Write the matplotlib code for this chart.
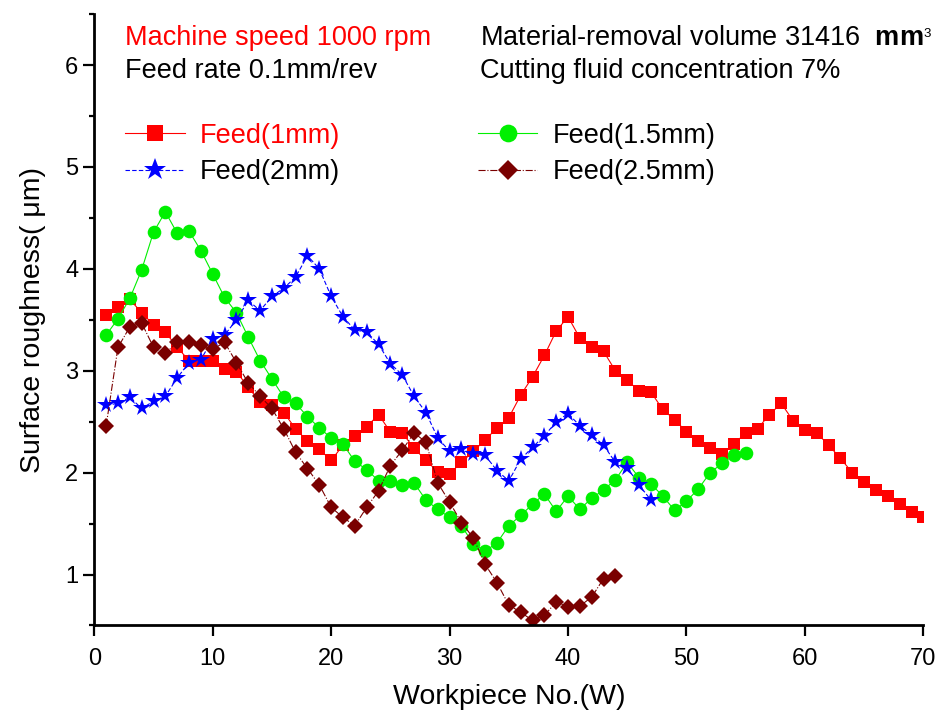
import numpy as np
import matplotlib
matplotlib.use("Agg")
import matplotlib.pyplot as plt

plt.rcParams['font.family'] = ['Liberation Sans', 'DejaVu Sans']
plt.rcParams['mathtext.fontset'] = 'custom'
plt.rcParams['mathtext.rm'] = 'Liberation Sans'
plt.rcParams['mathtext.bf'] = 'Liberation Sans:bold'

# surface roughness (um) per workpiece
feed_1mm = [3.55, 3.63, 3.70, 3.57, 3.45, 3.38, 3.23, 3.10, 3.10, 3.10,
            3.02, 2.99, 2.84, 2.69, 2.66, 2.59, 2.43, 2.31, 2.23, 2.12,
            2.27, 2.36, 2.45, 2.57, 2.40, 2.39, 2.24, 2.12, 2.01, 1.99,
            2.10, 2.21, 2.32, 2.44, 2.54, 2.76, 2.94, 3.15, 3.39, 3.53,
            3.32, 3.23, 3.19, 3.00, 2.91, 2.80, 2.79, 2.62, 2.52, 2.40,
            2.31, 2.24, 2.18, 2.28, 2.39, 2.43, 2.57, 2.68, 2.51, 2.42,
            2.39, 2.27, 2.14, 2.00, 1.91, 1.83, 1.77, 1.69, 1.61, 1.56]
feed_15mm = [3.35, 3.51, 3.71, 3.99, 4.36, 4.56, 4.35, 4.37, 4.18, 3.95,
             3.72, 3.57, 3.33, 3.10, 2.92, 2.74, 2.68, 2.55, 2.44, 2.34,
             2.28, 2.11, 2.03, 1.92, 1.92, 1.88, 1.90, 1.73, 1.64, 1.56,
             1.48, 1.30, 1.23, 1.31, 1.48, 1.58, 1.69, 1.79, 1.62, 1.77,
             1.64, 1.75, 1.83, 1.93, 2.10, 1.95, 1.89, 1.77, 1.63, 1.72,
             1.84, 2.00, 2.09, 2.17, 2.19]
feed_2mm = [2.66, 2.68, 2.74, 2.63, 2.70, 2.75, 2.93, 3.08, 3.11, 3.31,
            3.35, 3.50, 3.69, 3.59, 3.73, 3.81, 3.92, 4.13, 4.00, 3.73,
            3.53, 3.40, 3.38, 3.26, 3.07, 2.96, 2.75, 2.59, 2.34, 2.21,
            2.23, 2.18, 2.17, 2.02, 1.92, 2.13, 2.25, 2.36, 2.50, 2.58,
            2.46, 2.37, 2.27, 2.10, 2.05, 1.88, 1.73]
feed_25mm = [2.46, 3.23, 3.43, 3.47, 3.23, 3.17, 3.28, 3.28, 3.25, 3.21,
             3.28, 3.08, 2.88, 2.75, 2.63, 2.43, 2.20, 2.04, 1.88, 1.66,
             1.56, 1.48, 1.66, 1.82, 2.07, 2.22, 2.39, 2.30, 1.90, 1.71,
             1.51, 1.36, 1.10, 0.92, 0.70, 0.63, 0.55, 0.60, 0.73, 0.68,
             0.69, 0.78, 0.96, 0.99]

fig = plt.figure(figsize=(9.4, 7.15), dpi=100)
ax = fig.add_axes([0.1003, 0.1252, 0.882, 0.855])

l1, = ax.plot(np.arange(1, len(feed_1mm) + 1), feed_1mm, color='#ff0000', lw=0.8,
              marker='s', ms=9.2, mew=0, label='Feed(1mm)')
l2, = ax.plot(np.arange(1, len(feed_15mm) + 1), feed_15mm, color='#00f000', lw=0.8,
              marker='o', ms=9.8, mew=0, label='Feed(1.5mm)')
l3, = ax.plot(np.arange(1, len(feed_2mm) + 1), feed_2mm, color='#0000ff', lw=0.8,
              ls=(0, (4, 2)), marker='*', ms=13, mew=0, label='Feed(2mm)')
l4, = ax.plot(np.arange(1, len(feed_25mm) + 1), feed_25mm, color='#7a0000', lw=0.8,
              ls='-.', marker='D', ms=8.2, mew=0, label='Feed(2.5mm)')

ax.set_xlim(0, 70)
ax.set_ylim(0.5, 6.5)
ax.set_xticks(range(0, 71, 10))
ax.set_yticks(range(1, 7))
ax.set_yticks(np.arange(0.5, 6.6, 1.0), minor=True)
ax.tick_params(axis='both', which='major', direction='out', length=8, width=1.6,
               labelsize=17)
ax.tick_params(axis='x', which='major', pad=8)
ax.tick_params(axis='y', which='minor', direction='out', length=3.5, width=1.6)
ax.spines['top'].set_visible(False)
ax.spines['right'].set_visible(False)
for s in ('left', 'bottom'):
    ax.spines[s].set_linewidth(2)

ax.set_xlabel('Workpiece No.(W)', fontsize=20.5, labelpad=10)
ax.set_ylabel('Surface roughness( \u03bcm)', fontsize=20.5, labelpad=14)

# condition notes
ax.text(0.037, 0.949, 'Machine speed 1000 rpm', color='#ff0000', fontsize=19.5,
        transform=ax.transAxes, va='baseline')
ax.text(0.037, 0.895, 'Feed rate 0.1mm/rev', fontsize=19.5,
        transform=ax.transAxes, va='baseline')
ax.text(0.465, 0.949, r'Material-removal volume 31416  $\mathbf{mm}^{_3}$', fontsize=19.5,
        transform=ax.transAxes, va='baseline')
ax.text(0.465, 0.895, 'Cutting fluid concentration 7%', fontsize=19.5,
        transform=ax.transAxes, va='baseline')

leg = ax.legend([l1, l3, l2, l4], ['Feed(1mm)', 'Feed(2mm)', 'Feed(1.5mm)', 'Feed(2.5mm)'],
                ncol=2, loc='upper left', bbox_to_anchor=(0.037, 0.822),
                frameon=False, fontsize=19.5, borderpad=0, borderaxespad=0,
                handlelength=2.2, handletextpad=0.55, labelspacing=0.38,
                columnspacing=5.1, markerscale=1.3)
leg.get_texts()[0].set_color('#ff0000')

fig.savefig('out.png', dpi=100)
